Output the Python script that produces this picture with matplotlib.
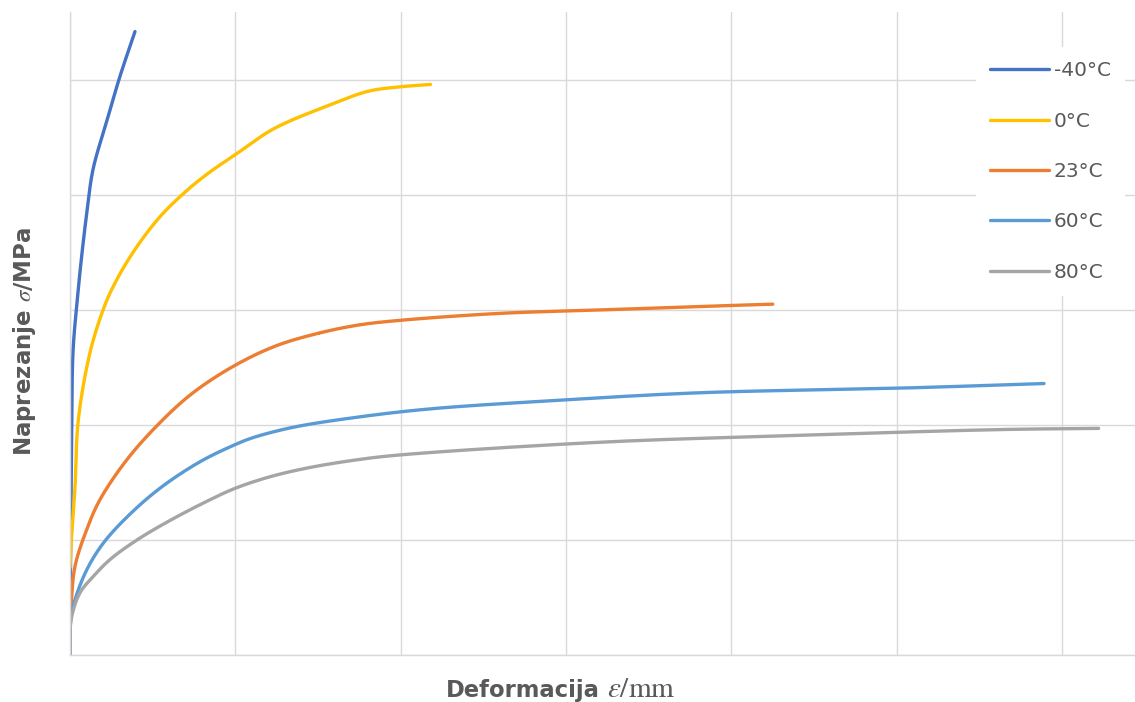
import matplotlib
matplotlib.use('Agg')
import matplotlib.pyplot as plt
import numpy as np

# Stress-strain curves (x: grid step 1 mm, y: grid step 10 MPa)
labels = ['-40°C', '0°C', '23°C', '60°C', '80°C']
colors = ['#4472C4', '#FFC000', '#ED7D31', '#5B9BD5', '#A5A5A5']

x_m40 = [0, 0.003, 0.01, 0.018, 0.042, 0.073, 0.103, 0.139, 0.224, 0.302, 0.393]
y_m40 = [0, 8.3, 18.7, 26.3, 30.6, 35.0, 38.6, 42.2, 46.5, 50.3, 54.2]

x_0 = [0, 0.006, 0.03, 0.05, 0.121, 0.2, 0.26, 0.381, 0.544, 0.708, 0.847, 1.0, 1.19, 1.31,
       1.55, 1.8, 2.0, 2.18]
y_0 = [7.6, 9.5, 14.5, 20.4, 26.3, 30.0, 32.0, 35.0, 38.1, 40.4, 42.0, 43.5, 45.4, 46.3,
       47.7, 49.0, 49.4, 49.6]

x_23 = [0, 0.006, 0.03, 0.101, 0.181, 0.345, 0.544, 0.744, 1.0, 1.25, 1.51, 1.75, 2.0, 2.6,
        3.21, 3.81, 4.25]
y_23 = [2.6, 4.2, 7.7, 10.9, 13.5, 17.0, 20.2, 22.8, 25.2, 26.9, 28.0, 28.7, 29.1, 29.7,
        30.0, 30.3, 30.5]

x_60 = [0, 0.006, 0.03, 0.101, 0.2, 0.345, 0.544, 0.786, 1.0, 1.107, 1.35, 1.75, 2.18,
        2.9, 3.81, 5.02, 5.89]
y_60 = [1.5, 3.3, 4.8, 7.4, 9.7, 12.0, 14.5, 16.8, 18.3, 18.9, 19.8, 20.7, 21.4,
        22.1, 22.8, 23.2, 23.6]

x_80 = [0, 0.006, 0.06, 0.139, 0.242, 0.405, 0.605, 0.847, 1.0, 1.21, 1.45, 1.75, 2.0, 3.21,
        4.42, 5.63, 6.22]
y_80 = [0, 3.0, 5.4, 6.8, 8.3, 10.0, 11.7, 13.5, 14.5, 15.5, 16.3, 17.0, 17.4, 18.5,
        19.1, 19.6, 19.7]

series = [(x_m40, y_m40), (x_0, y_0), (x_23, y_23), (x_60, y_60), (x_80, y_80)]

XMAX, YMAX = 6.44, 55.9


def smooth(xs, ys, n=30):
    """Centripetal Catmull-Rom through the points (like Excel's smoothed line)."""
    # work in screen-like units so the curve bends evenly
    p = np.column_stack([np.array(xs) / XMAX * 1065, np.array(ys) / YMAX * 643])
    p = np.vstack([2 * p[0] - p[1], p, 2 * p[-1] - p[-2]])
    out = []
    for i in range(1, len(p) - 2):
        p0, p1, p2, p3 = p[i - 1], p[i], p[i + 1], p[i + 2]
        t0 = 0.0
        t1 = t0 + max(np.linalg.norm(p1 - p0), 1e-6) ** 0.5
        t2 = t1 + max(np.linalg.norm(p2 - p1), 1e-6) ** 0.5
        t3 = t2 + max(np.linalg.norm(p3 - p2), 1e-6) ** 0.5
        t = np.linspace(t1, t2, n)[:, None]
        a1 = (t1 - t) / (t1 - t0) * p0 + (t - t0) / (t1 - t0) * p1
        a2 = (t2 - t) / (t2 - t1) * p1 + (t - t1) / (t2 - t1) * p2
        a3 = (t3 - t) / (t3 - t2) * p2 + (t - t2) / (t3 - t2) * p3
        b1 = (t2 - t) / (t2 - t0) * a1 + (t - t0) / (t2 - t0) * a2
        b2 = (t3 - t) / (t3 - t1) * a2 + (t - t1) / (t3 - t1) * a3
        c = (t2 - t) / (t2 - t1) * b1 + (t - t1) / (t2 - t1) * b2
        out.append(c)
    c = np.vstack(out)
    return c[:, 0] / 1065 * XMAX, c[:, 1] / 643 * YMAX


plt.rcParams['mathtext.fontset'] = 'stix'

fig = plt.figure(figsize=(11.35, 7.02), dpi=100)
ax = fig.add_axes([70 / 1135, 1 - 655 / 702, 1 - 70 / 1135, (655 - 12) / 702])

for (xs, ys), lab, col in zip(series, labels, colors):
    sx, sy = smooth(xs, ys)
    ax.plot(sx, sy, color=col, linewidth=2.4, label=lab, solid_capstyle='round')

ax.set_xlim(0, XMAX)
ax.set_ylim(0, YMAX)
ax.set_xticks(np.arange(0, 7, 1))
ax.set_yticks(np.arange(0, 60, 10))
ax.tick_params(length=0, labelbottom=False, labelleft=False)
ax.grid(True, color='#d9d9d9', linewidth=1)
ax.set_axisbelow(True)
for side in ['top', 'right']:
    ax.spines[side].set_visible(False)
for side in ['left', 'bottom']:
    ax.spines[side].set_color('#d9d9d9')
    ax.spines[side].set_linewidth(1)

# axis titles (no tick labels in the original)
fig.text(25 / 1135, 1 - 341 / 702, r'Naprezanje $\sigma$/MPa', rotation=90,
         ha='center', va='center', fontsize=16.5, fontweight='bold', color='#595959')
fig.text(600 / 1135, 1 - 697 / 702, 'Deformacija', ha='right', va='baseline',
         fontsize=16.3, fontweight='bold', color='#595959')
fig.text(607 / 1135, 1 - 697 / 702, r'$\varepsilon/\mathrm{mm}$', ha='left', va='baseline',
         fontsize=21, color='#595959')

leg = ax.legend(loc='upper right', bbox_to_anchor=(1.0, 0.961), frameon=True,
                facecolor='white', edgecolor='none', framealpha=1,
                fontsize=14.5, labelspacing=1.56, handlelength=2.9, handletextpad=0.25,
                borderpad=0.7, fancybox=False)
for t in leg.get_texts():
    t.set_color('#595959')

fig.savefig('out.png', dpi=100)
